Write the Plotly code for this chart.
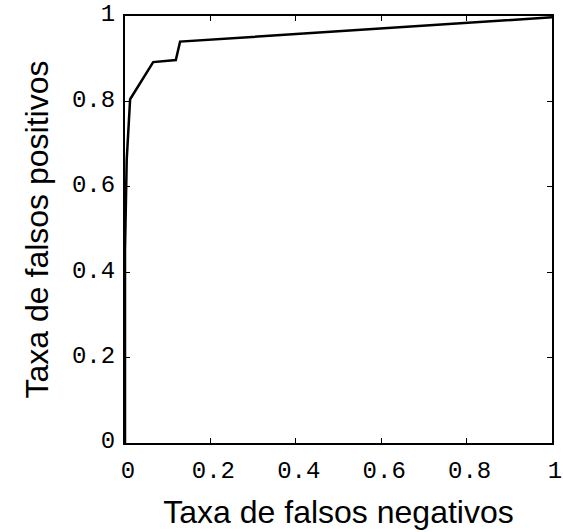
import plotly.graph_objects as go

# ROC-like curve values
fnr = [0.0, 0.0, 0.004, 0.012, 0.066, 0.119, 0.129, 1.0]
tpr = [0.0, 0.45, 0.663, 0.805, 0.892, 0.897, 0.940, 0.997]

xticks = [0, 0.2, 0.4, 0.6, 0.8, 1]
yticks = [0, 0.2, 0.4, 0.6, 0.8, 1]
xlabels = ["0", "0.2", "0.4", "0.6", "0.8", "1"]
ylabels = ["0", "0.2", "0.4", "0.6", "0.8", "1"]

tickfont = dict(family="Liberation Mono, DejaVu Sans Mono, monospace", size=24, color="black")
titlefont = dict(family="Liberation Sans, Arial, sans-serif", size=32, color="black")

axis_common = dict(range=[0, 1], showgrid=False, zeroline=False,
                   showline=True, linecolor="black", linewidth=2, mirror="allticks",
                   ticks="inside", ticklen=5, tickwidth=1, tickcolor="black",
                   tickfont=tickfont, automargin=False, ticklabeloverflow="allow")

fig = go.Figure()
fig.add_trace(go.Scatter(x=fnr, y=tpr, mode="lines",
                         line=dict(color="black", width=2.5), showlegend=False))

fig.update_xaxes(tickvals=xticks, ticktext=xlabels,
                 title=dict(text="Taxa de falsos negativos", font=titlefont, standoff=17),
                 ticklabelstandoff=4, ticklabelshift=3, **axis_common)
fig.update_yaxes(tickvals=yticks, ticktext=ylabels,
                 title=dict(text="Taxa de falsos positivos", font=titlefont, standoff=14),
                 ticklabelstandoff=3, ticklabelshift=-3, **axis_common)

fig.update_layout(width=563, height=532,
                  margin=dict(l=125, r=11, t=16, b=89),
                  plot_bgcolor="white", paper_bgcolor="white")

fig.write_html("out.html")
